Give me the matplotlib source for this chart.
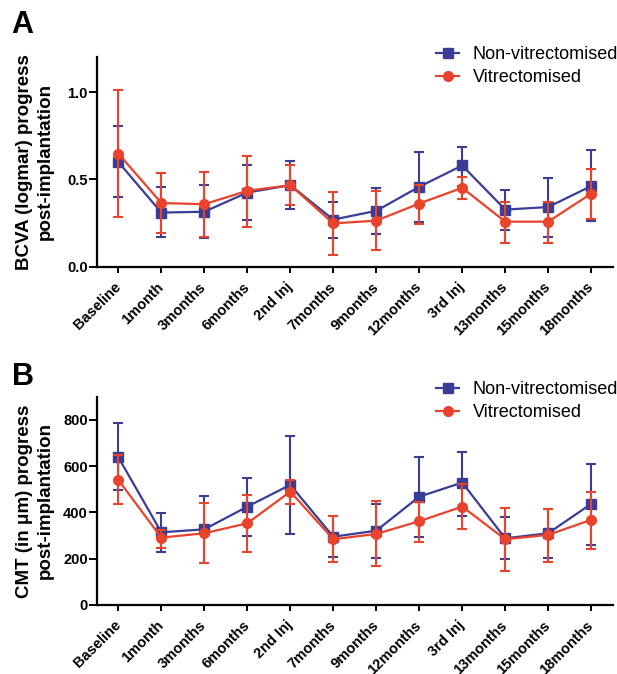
import matplotlib.pyplot as plt
from matplotlib.lines import Line2D
import numpy as np

# DATA
timepoints = ["Baseline", "1month", "3months", "6months", "2nd Inj", "7months",
              "9months", "12months", "3rd Inj", "13months", "15months", "18months"]

# Panel A - BCVA (logmar): means and error-bar ends (upper, lower)
bcva_non_mean = [0.60, 0.31, 0.315, 0.425, 0.467, 0.27, 0.32, 0.458, 0.58, 0.327, 0.342, 0.462]
bcva_non_hi = [0.808, 0.454, 0.468, 0.585, 0.608, 0.368, 0.452, 0.66, 0.688, 0.442, 0.508, 0.669]
bcva_non_lo = [0.40, 0.17, 0.164, 0.266, 0.333, 0.163, 0.186, 0.256, 0.465, 0.212, 0.173, 0.26]

bcva_vit_mean = [0.648, 0.365, 0.358, 0.435, 0.467, 0.248, 0.264, 0.362, 0.452, 0.258, 0.258, 0.419]
bcva_vit_hi = [1.015, 0.537, 0.544, 0.637, 0.585, 0.429, 0.436, 0.47, 0.513, 0.372, 0.372, 0.562]
bcva_vit_lo = [0.285, 0.192, 0.173, 0.227, 0.352, 0.069, 0.094, 0.243, 0.39, 0.137, 0.137, 0.275]

# Panel B - CMT (um)
cmt_non_mean = [638, 314, 327, 425, 519, 295, 321, 468, 529, 288, 310, 437]
cmt_non_hi = [786, 399, 471, 548, 732, 383, 435, 641, 663, 379, 414, 610]
cmt_non_lo = [497, 231, 183, 298, 307, 209, 202, 293, 386, 200, 205, 259]

cmt_vit_mean = [540, 291, 310, 353, 490, 284, 307, 362, 425, 284, 303, 368]
cmt_vit_hi = [649, 325, 440, 476, 538, 385, 450, 447, 523, 418, 415, 490]
cmt_vit_lo = [435, 245, 180, 231, 437, 185, 169, 274, 327, 148, 187, 242]

# STYLE
BLUE = "#393D96"
RED = "#E9432B"
plt.rcParams["font.family"] = ["Liberation Sans", "DejaVu Sans"]

fig = plt.figure(figsize=(6.17, 6.74), dpi=100)
ax_a = fig.add_axes([0.157, 0.6043, 0.836, 0.3107])
ax_b = fig.add_axes([0.157, 0.1024, 0.836, 0.309])

x = np.arange(len(timepoints))


def draw_panel(ax, non_mean, non_hi, non_lo, vit_mean, vit_hi, vit_lo, legend_top):
    non_mean = np.array(non_mean)
    vit_mean = np.array(vit_mean)
    non_err = [non_mean - np.array(non_lo), np.array(non_hi) - non_mean]
    vit_err = [vit_mean - np.array(vit_lo), np.array(vit_hi) - vit_mean]
    ax.errorbar(x, non_mean, yerr=non_err, color=BLUE, marker="s", markersize=6.5,
                linewidth=1.6, elinewidth=1.5, capsize=3.6, capthick=1.5, zorder=3)
    ax.errorbar(x, vit_mean, yerr=vit_err, color=RED, marker="o", markersize=7,
                linewidth=1.6, elinewidth=1.5, capsize=3.6, capthick=1.5, zorder=4)

    ax.spines["top"].set_visible(False)
    ax.spines["right"].set_visible(False)
    ax.spines["left"].set_linewidth(1.6)
    ax.spines["bottom"].set_linewidth(1.6)
    ax.tick_params(axis="y", width=1.4, length=5.5, pad=1, labelsize=10.5)
    ax.tick_params(axis="x", width=1.4, length=4, pad=9)
    ax.set_xlim(-0.5, 11.5)
    ax.set_xticks(x)
    ax.set_xticklabels(timepoints, rotation=45, ha="right", va="center",
                       rotation_mode="anchor", fontweight="bold", fontsize=10.5)

    # legend handles: line + marker only, no error bars
    handles = [
        Line2D([], [], color=BLUE, marker="s", markersize=6.5, linewidth=1.6),
        Line2D([], [], color=RED, marker="o", markersize=7, linewidth=1.6),
    ]
    ax.legend(handles, ["Non-vitrectomised", "Vitrectomised"], loc="upper left",
              bbox_to_anchor=(0.7066, legend_top), bbox_transform=fig.transFigure,
              frameon=False, fontsize=13, handlelength=1.3, handletextpad=0.75,
              labelspacing=0.35, borderpad=0, borderaxespad=0)


draw_panel(ax_a, bcva_non_mean, bcva_non_hi, bcva_non_lo,
           bcva_vit_mean, bcva_vit_hi, bcva_vit_lo, 0.932)
ax_a.set_ylim(0, 1.2)
ax_a.set_yticks([0.0, 0.5, 1.0])
ax_a.set_yticklabels(["0.0", "0.5", "1.0"], fontweight="bold")
ax_a.set_ylabel("BCVA (logmar) progress\npost-implantation", fontsize=13.5,
                fontweight="bold", va="center", linespacing=1.3)
ax_a.yaxis.set_label_coords(-0.12, 0.5)

draw_panel(ax_b, cmt_non_mean, cmt_non_hi, cmt_non_lo,
           cmt_vit_mean, cmt_vit_hi, cmt_vit_lo, 0.4347)
ax_b.set_ylim(0, 900)
ax_b.set_yticks([0, 200, 400, 600, 800])
ax_b.set_yticklabels(["0", "200", "400", "600", "800"], fontweight="bold")
ax_b.set_ylabel("CMT (in \u03bcm) progress\npost-implantation", fontsize=13.5,
                fontweight="bold", va="center", linespacing=1.3)
ax_b.yaxis.set_label_coords(-0.12, 0.5)

# Panel letters
fig.text(0.019, 0.963, "A", fontsize=22, fontweight="bold", va="center")
fig.text(0.019, 0.44, "B", fontsize=22, fontweight="bold", va="center")

fig.savefig("out.png", dpi=100)
